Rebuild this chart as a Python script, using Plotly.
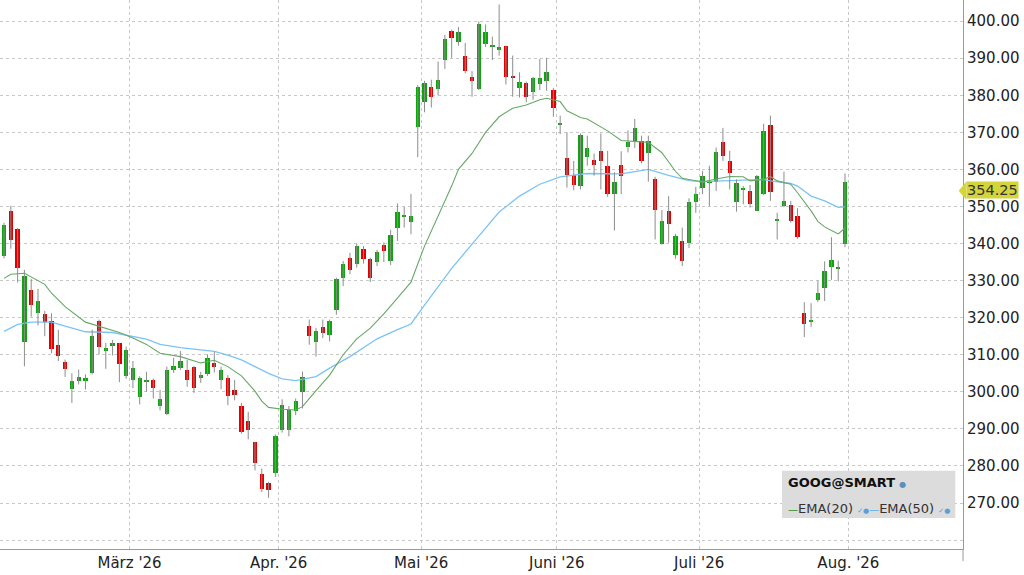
import numpy as np
import pandas as pd
import plotly.graph_objects as go


# Handelstage Feb - Jul 2026 (NYSE Feiertage raus)
holidays = ['2026-02-16', '2026-04-03', '2026-05-25', '2026-06-19', '2026-07-03']
dates = pd.bdate_range('2026-02-02', '2026-07-31', freq='C', holidays=holidays)

# GOOG Tageskerzen
open_ = [336.7, 348.8, 343.9, 313.5, 327.5, 321.4, 320.9, 319.1, 312.5, 308.1,
         300.8, 302.8, 302.8, 305.1, 319.1, 311.2, 312.3, 313.1, 304.2, 303.2,
         298.6, 302.7, 303.2, 296.2, 294.0, 306.0, 306.3, 306.0, 306.6, 303.6,
         304.8, 307.9, 303.2, 303.8, 300.6, 296.2, 292.1, 286.5, 277.7, 275.5,
         278.0, 289.8, 289.8, 294.8, 300.0, 317.8, 313.4, 317.5, 315.4, 322.2,
         330.8, 336.0, 334.6, 338.6, 335.7, 335.1, 339.6, 335.3, 344.3, 347.3,
         345.7, 371.4, 378.1, 382.3, 381.7, 389.5, 397.3, 394.3, 390.7, 385.0,
         381.7, 393.9, 393.1, 392.2, 393.4, 385.3, 381.9, 383.2, 381.0, 383.0,
         383.9, 381.4, 372.2, 363.2, 358.4, 355.5, 363.4, 362.5, 365.0, 361.0,
         353.5, 361.2, 366.1, 367.6, 367.6, 364.3, 357.4, 339.9, 348.8, 337.0,
         340.6, 340.2, 351.3, 354.9, 356.3, 356.7, 367.3, 362.3, 351.3, 354.7,
         354.2, 348.9, 353.5, 372.1, 346.1, 350.1, 350.4, 347.4, 321.4, 318.9,
         324.8, 328.1, 333.8, 333.4, 339.9]
high = [345.6, 350.2, 344.2, 332.9, 330.4, 327.8, 321.8, 321.2, 316.7, 308.7,
        305.0, 306.0, 304.7, 316.8, 319.5, 313.2, 314.0, 313.2, 312.2, 308.3,
        304.2, 305.4, 303.6, 300.5, 306.8, 309.2, 311.0, 308.6, 307.0, 305.4,
        310.1, 310.8, 306.8, 304.5, 303.2, 297.0, 294.6, 286.5, 279.3, 275.7,
        288.5, 298.0, 296.2, 298.2, 305.5, 319.5, 317.2, 319.5, 319.5, 330.8,
        335.3, 337.5, 340.0, 339.3, 336.2, 338.3, 340.3, 343.7, 350.8, 349.9,
        353.4, 382.7, 383.9, 384.2, 389.1, 396.3, 397.7, 398.4, 394.1, 386.5,
        399.9, 399.1, 395.8, 404.5, 393.4, 390.7, 386.2, 383.7, 385.0, 389.8,
        390.1, 382.0, 374.5, 370.0, 362.3, 369.7, 369.1, 364.3, 369.7, 365.0,
        359.2, 364.9, 370.5, 373.6, 369.1, 369.1, 358.0, 349.0, 352.8, 342.6,
        344.3, 352.2, 355.3, 359.6, 361.0, 365.9, 371.2, 365.0, 357.3, 355.5,
        355.8, 358.5, 372.3, 374.5, 348.3, 359.4, 351.5, 349.5, 324.2, 323.9,
        330.0, 335.2, 341.7, 335.4, 358.9]
low = [336.0, 338.6, 329.5, 306.9, 320.3, 317.9, 315.0, 310.4, 308.3, 304.0,
       297.0, 302.0, 300.6, 304.7, 310.1, 306.2, 309.8, 302.6, 303.5, 301.0,
       296.6, 300.0, 298.2, 295.0, 293.7, 305.1, 305.9, 301.4, 299.7, 302.4,
       304.3, 305.2, 300.7, 296.4, 297.7, 288.7, 287.2, 278.8, 273.0, 271.4,
       277.0, 289.0, 288.0, 293.7, 295.5, 312.7, 309.5, 314.5, 313.6, 320.8,
       328.5, 331.7, 333.5, 334.6, 329.6, 333.9, 335.0, 334.2, 340.7, 344.3,
       342.5, 363.3, 375.4, 376.7, 380.0, 387.1, 390.1, 393.4, 385.9, 379.6,
       381.4, 393.0, 389.5, 390.7, 382.9, 379.6, 379.4, 378.1, 378.8, 381.4,
       381.2, 374.2, 369.5, 355.1, 354.4, 354.6, 361.0, 358.3, 354.6, 352.6,
       343.5, 353.3, 364.6, 365.8, 361.6, 356.7, 341.1, 339.7, 340.2, 335.9,
       333.9, 338.8, 348.3, 353.3, 350.1, 354.2, 362.3, 354.6, 348.6, 350.6,
       349.7, 348.8, 353.1, 351.5, 341.1, 349.8, 345.6, 341.3, 314.8, 317.5,
       324.2, 324.5, 330.2, 329.8, 339.0]
close = [345.0, 340.9, 333.5, 331.3, 323.4, 324.5, 318.8, 311.6, 309.6, 306.2,
         302.9, 304.1, 303.7, 315.0, 312.1, 311.7, 313.2, 307.4, 311.4, 306.5,
         303.8, 303.3, 301.1, 298.2, 306.0, 307.0, 308.3, 303.2, 301.1, 304.5,
         309.2, 306.6, 305.9, 298.9, 299.1, 289.2, 289.6, 280.9, 273.7, 273.4,
         288.0, 296.5, 295.0, 297.5, 304.1, 315.0, 316.3, 315.9, 319.2, 330.5,
         334.6, 333.0, 339.3, 335.7, 330.6, 337.7, 338.0, 342.3, 348.6, 347.7,
         347.5, 382.1, 383.2, 379.6, 384.1, 395.2, 395.4, 397.0, 386.6, 383.9,
         399.1, 397.2, 393.4, 393.1, 385.0, 384.9, 383.5, 379.4, 384.7, 384.7,
         386.2, 376.5, 372.6, 358.4, 355.8, 369.4, 365.7, 361.2, 362.3, 353.5,
         356.6, 358.3, 367.3, 371.2, 362.3, 367.6, 349.0, 346.1, 345.2, 342.0,
         335.2, 351.3, 353.3, 358.1, 356.9, 364.8, 363.7, 358.9, 356.4, 355.1,
         350.7, 358.2, 370.3, 354.0, 346.4, 351.5, 346.2, 341.7, 318.4, 319.2,
         326.6, 332.5, 335.6, 333.7, 356.7]
last_price = 354.25

ema20_idx = [0, 1, 3, 4, 6, 7, 9, 12, 14, 17, 19, 21, 23, 26, 29, 31, 33, 35,
             37, 38, 39, 41, 43, 44, 46, 48, 50, 52, 54, 56, 58, 60, 61, 62, 66,
             67, 69, 71, 73, 75, 77, 79, 80, 82, 83, 85, 86, 89, 91, 93, 95, 97,
             99, 100, 103, 105, 107, 109, 110, 112, 113, 114, 116, 117, 119, 120,
             121, 122, 123, 124]
ema20_val = [330.6, 331.7, 332.0, 331.0, 329.0, 326.6, 323.0, 318.8, 317.7,
             316.0, 314.5, 312.8, 310.4, 309.5, 307.8, 308.5, 306.8, 304.3,
             300.2, 297.5, 295.8, 295.3, 295.1, 296.0, 300.3, 304.5, 310.0,
             314.3, 317.2, 321.0, 325.3, 329.6, 334.5, 339.3, 355.5, 360.0,
             364.3, 370.0, 374.2, 376.5, 377.4, 378.8, 379.2, 378.3, 375.8,
             374.0, 373.6, 370.4, 367.8, 367.5, 367.3, 364.5, 359.5, 357.6,
             356.6, 357.4, 358.1, 358.0, 356.9, 357.3, 358.1, 356.9, 356.0,
             353.7, 348.8, 346.0, 344.5, 343.5, 342.6, 344.2]
ema50_idx = [0, 2, 4, 7, 9, 12, 16, 19, 21, 23, 26, 29, 31, 33, 35, 37, 39, 41,
             43, 46, 48, 51, 53, 55, 58, 60, 62, 66, 70, 73, 76, 79, 82, 86, 91,
             94, 95, 98, 101, 103, 106, 109, 112, 113, 116, 117, 119, 121, 123,
             124]
ema50_val = [316.3, 318.2, 318.8, 318.8, 317.7, 316.2, 316.0, 315.0, 314.2,
             312.8, 311.9, 311.3, 310.9, 309.9, 308.6, 306.8, 305.0, 303.5,
             303.0, 304.1, 306.4, 309.5, 311.8, 314.3, 316.8, 318.3, 323.4,
             333.3, 342.0, 348.5, 352.8, 356.0, 358.0, 358.9, 358.8, 359.6,
             360.0, 358.4, 357.0, 356.7, 356.9, 357.2, 357.3, 356.9, 356.2,
             355.5, 352.8, 351.5, 349.8, 349.9]

month_labels = ["", "März '26", "Apr. '26", "Mai '26", "Juni '26", "Juli '26", "Aug. '26"]
price_ticks = list(range(260, 410, 10))

GREEN = '#0fa30f'
RED = '#e00000'
WICK = '#8c8c8c'
FONT = 'DejaVu Sans'


def month_ticks(dates):
    # Gitterlinie zwischen letztem und erstem Handelstag eines Monats
    starts = [i for i in range(len(dates)) if i == 0 or dates[i].month != dates[i - 1].month]
    return [s - 0.5 for s in starts] + [len(dates) - 0.5]


def get_candles(fig, x, o, h, l, c):
    # Dochte grau
    wx, wy = [], []
    for i in range(len(x)):
        wx += [x[i], x[i], None]
        wy += [l[i], h[i], None]
    fig.add_trace(go.Scatter(x=wx, y=wy, mode='lines', hoverinfo='skip',
                             line={'color': WICK, 'width': 1}))
    # Koerper
    base = [min(a, b) for a, b in zip(o, c)]
    height = [max(abs(b - a), 0.35) for a, b in zip(o, c)]
    colors = [GREEN if b >= a else RED for a, b in zip(o, c)]
    fig.add_trace(go.Bar(x=x, y=height, base=base, width=0.64,
                         marker={'color': colors, 'line': {'width': 0}},
                         customdata=np.stack([o, h, l, c], axis=-1),
                         hovertext=[d.strftime('%d.%m.%Y') for d in dates],
                         hovertemplate='%{hovertext}<br>O %{customdata[0]}<br>H %{customdata[1]}'
                                       '<br>L %{customdata[2]}<br>C %{customdata[3]}<extra></extra>'))


fig = go.Figure()
idx = list(range(len(dates)))

fig.add_trace(go.Scatter(x=ema50_idx, y=ema50_val, mode='lines', name='EMA(50)',
                         line={'color': '#7cc3f5', 'width': 1.3}))
fig.add_trace(go.Scatter(x=ema20_idx, y=ema20_val, mode='lines', name='EMA(20)',
                         line={'color': '#66a866', 'width': 1.1}))
get_candles(fig, idx, open_, high, low, close)

tickpos = month_ticks(dates)

fig.update_layout(
    width=1024, height=575,
    margin={'l': 0, 'r': 61, 't': 0, 'b': 26},
    paper_bgcolor='white', plot_bgcolor='white',
    showlegend=False, bargap=0,
    font={'family': FONT, 'size': 15, 'color': '#222222'},
    xaxis={
        'range': [-0.6, 141.4],
        'tickmode': 'array', 'tickvals': tickpos, 'ticktext': month_labels,
        'showgrid': True, 'gridcolor': '#c8c8c8', 'griddash': 'dot', 'gridwidth': 1,
        'showline': True, 'linecolor': '#9a9a9a', 'linewidth': 1,
        'zeroline': False, 'ticks': '', 'automargin': False,
    },
    yaxis={
        'side': 'right', 'range': [257.6, 405.7],
        'tickmode': 'array', 'tickvals': price_ticks,
        'ticktext': ['' if v == 260 else f'{v:.2f}' for v in price_ticks],
        'showgrid': True, 'gridcolor': '#c8c8c8', 'griddash': 'dot', 'gridwidth': 1,
        'showline': True, 'linecolor': '#9a9a9a', 'linewidth': 1,
        'zeroline': False, 'ticks': '', 'automargin': False,
    },
)

# kleiner Strich unter der Ecke rechts unten
fig.add_shape(type='line', xref='paper', yref='paper', x0=1, x1=1, y0=0, y1=-0.022,
              line={'color': '#9a9a9a', 'width': 1})

# letzter Kurs rechts am Rand
py = 1 - (405.7 - last_price) / (405.7 - 257.6)
fig.add_shape(type='path', xref='paper', yref='paper',
              path=f'M 0.9955 {py} L 1.0035 {py + 0.017} L 1.0035 {py - 0.017} Z',
              fillcolor='#d4d43c', line={'width': 0}, layer='above')
fig.add_annotation(xref='paper', yref='paper', x=1.0035, y=py + 0.002, xanchor='left', yanchor='middle',
                   text=f'{last_price:.2f}', showarrow=False, bgcolor='#d4d43c',
                   borderpad=0, font={'size': 14.5, 'color': '#333333'})

# Legende unten rechts
fig.add_shape(type='rect', xref='paper', yref='paper', x0=0.812, x1=0.992, y0=0.0565, y1=0.1425,
              fillcolor='#dcdcdc', line={'width': 0}, layer='above')
fig.add_annotation(xref='paper', yref='paper', x=0.8165, y=0.121, xanchor='left', yanchor='middle',
                   showarrow=False,
                   text='<b>GOOG@SMART</b> <span style="color:#5b8fc0;font-size:8px">●</span>',
                   font={'size': 13, 'color': '#111111'})
fig.add_annotation(xref='paper', yref='paper', x=0.8165, y=0.074, xanchor='left', yanchor='middle',
                   showarrow=False,
                   text='<span style="color:#2e8b2e;font-size:10px">—</span>EMA(20) '
                        '<span style="color:#5b9fd8;font-size:7px">✓●</span>'
                        '<span style="color:#5ab0f0;font-size:10px">—</span>EMA(50) '
                        '<span style="color:#5b9fd8;font-size:7px">✓●</span>',
                   font={'size': 13, 'color': '#333333'})

# Seitenrand weg, damit das Bild bei 0,0 beginnt
fig.write_html("out.html", config={'displayModeBar': False},
               post_script="document.body.style.margin='0';"
                           "document.body.style.overflow='hidden';")
